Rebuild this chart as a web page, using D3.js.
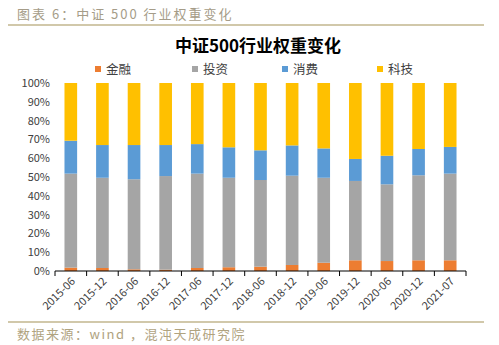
<!DOCTYPE html>
<html>
<head>
<meta charset="utf-8">
<script src="https://cdn.jsdelivr.net/npm/d3@7"></script>
<style>
  body { margin: 0; background: #fff; }
  svg text { font-family: "Noto Sans CJK SC", "Noto Sans", sans-serif; }
</style>
</head>
<body>
<div id="chart"></div>
<script>
// data (percent of index weight)
const periods = ["2015-06", "2015-12", "2016-06", "2016-12", "2017-06", "2017-12", "2018-06",
    "2018-12", "2019-06", "2019-12", "2020-06", "2020-12", "2021-07"];
const finance = [1.8, 1.6, 0.9, 0.7, 1.6, 2.0, 2.3, 3.2, 4.4, 5.7, 5.3, 5.7, 5.7];
const invest = [50.0, 48.0, 47.9, 49.8, 50.2, 47.6, 46.1, 47.5, 45.2, 42.2, 40.8, 45.2, 46.1];
const consume = [17.5, 17.4, 18.2, 16.5, 15.7, 16.2, 15.8, 16.1, 15.6, 11.7, 15.2, 14.0, 14.2];
const tech = [30.7, 33.0, 33.0, 33.0, 32.5, 34.2, 35.8, 33.2, 34.8, 40.4, 38.7, 35.1, 34.0];
const seriesNames = ["金融", "投资", "消费", "科技"];
const yTicks = [0, 10, 20, 30, 40, 50, 60, 70, 80, 90, 100];

const colors = ["#ED7D31", "#A5A5A5", "#5B9BD5", "#FFC000"];
const W = 499, H = 345;
const margin = {top: 83, right: 33, bottom: 74, left: 55};
const width = W - margin.left - margin.right;
const height = H - margin.top - margin.bottom;

const svg = d3.select("#chart").append("svg")
    .attr("width", W)
    .attr("height", H);

// header / footer
svg.append("text")
    .attr("x", 17).attr("y", 19)
    .attr("font-size", 13)
    .attr("fill", "#a59c88")
    .attr("letter-spacing", 2)
    .text("图表 6：中证 500 行业权重变化");
svg.append("line")
    .attr("x1", 8).attr("x2", 484).attr("y1", 25).attr("y2", 25)
    .attr("stroke", "#c2b68e").attr("stroke-width", 1.5);
svg.append("line")
    .attr("x1", 8).attr("x2", 484).attr("y1", 322).attr("y2", 322)
    .attr("stroke", "#c2b68e").attr("stroke-width", 1.5);
svg.append("text")
    .attr("x", 17).attr("y", 339)
    .attr("font-size", 13)
    .attr("fill", "#b0a37f")
    .attr("letter-spacing", 1.5)
    .text("数据来源：wind ，混沌天成研究院");

// title
svg.append("text")
    .attr("x", 258).attr("y", 52)
    .attr("text-anchor", "middle")
    .attr("font-size", 17)
    .attr("font-weight", "bold")
    .attr("fill", "#000")
    .text("中证500行业权重变化");

// legend
const legendX = [95, 192, 282, 377];
const legend = svg.append("g");
seriesNames.forEach((name, i) => {
    legend.append("rect")
        .attr("x", legendX[i]).attr("y", 66)
        .attr("width", 6).attr("height", 6)
        .attr("fill", colors[i]);
    legend.append("text")
        .attr("x", legendX[i] + 11).attr("y", 74)
        .attr("font-size", 12.5)
        .attr("fill", "#404040")
        .text(name);
});

const g = svg.append("g")
    .attr("transform", "translate(" + margin.left + "," + margin.top + ")");

const x = d3.scaleBand()
    .domain(periods)
    .range([0, width])
    .paddingInner(0.6)
    .paddingOuter(0.3);

const y = d3.scaleLinear()
    .domain([0, 100])
    .range([height, 0]);

// stack
const table = periods.map((p, i) => ({
    period: p, "金融": finance[i], "投资": invest[i], "消费": consume[i], "科技": tech[i]
}));
const stack = d3.stack().keys(seriesNames)(table);

g.selectAll(".layer")
    .data(stack)
    .enter()
    .append("g")
    .attr("class", "layer")
    .attr("fill", (d, i) => colors[i])
    .selectAll("rect")
    .data(d => d)
    .enter()
    .append("rect")
    .attr("x", d => x(d.data.period))
    .attr("y", d => y(Math.min(d[1], 100)))
    .attr("height", d => y(d[0]) - y(Math.min(d[1], 100)))
    .attr("width", x.bandwidth());

// y axis
const yAxis = d3.axisLeft(y)
    .tickValues(yTicks)
    .tickSize(0)
    .tickPadding(5)
    .tickFormat(d => d + "%");
const yG = g.append("g").call(yAxis);
yG.select(".domain").remove();
yG.selectAll("text").attr("font-size", 11).attr("fill", "#404040");

// x axis, ticks between categories
const xG = g.append("g")
    .attr("transform", "translate(0," + height + ")");
xG.append("line")
    .attr("x1", 0).attr("x2", width)
    .attr("stroke", "#000").attr("stroke-width", 1);
const boundaries = d3.range(periods.length + 1).map(i => i * width / periods.length);
xG.selectAll(".tk")
    .data(boundaries)
    .enter()
    .append("line")
    .attr("x1", d => d).attr("x2", d => d)
    .attr("y1", 0).attr("y2", 5)
    .attr("stroke", "#000");
xG.selectAll(".lbl")
    .data(periods)
    .enter()
    .append("text")
    .attr("text-anchor", "end")
    .attr("font-size", 11)
    .attr("fill", "#404040")
    .attr("transform", d => "translate(" + (x(d) + x.bandwidth() / 2 + 5) + ",11) rotate(-45)")
    .text(d => d);
</script>
</body>
</html>
